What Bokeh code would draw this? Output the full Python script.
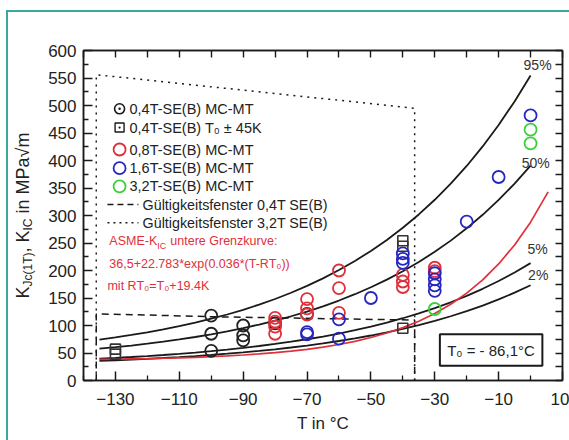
import math
from bokeh.plotting import figure
from bokeh.layouts import row
from bokeh.models import FixedTicker, LinearAxis, Range1d
from bokeh.embed import file_html
from bokeh.resources import INLINE
from bokeh.core.properties import value

# ---------------- data ----------------
T_curve = [-135, -130, -125, -120, -115, -110, -105, -100, -95, -90, -85, -80, -75, -70,
           -65, -60, -55, -50, -45, -40, -35, -30, -25, -20, -15, -10, -5, 0]
K_95 = [74.5, 78.5, 82.8, 87.7, 93.0, 98.8, 105.2, 112.3, 120.0, 128.5, 137.9, 148.2, 159.6, 172.0,
        185.7, 200.8, 217.4, 235.6, 255.6, 277.7, 301.9, 328.6, 357.9, 390.1, 425.6, 464.6, 507.4, 554.6]
K_50 = [57.8, 60.5, 63.6, 66.9, 70.6, 74.7, 79.1, 84.0, 89.4, 95.3, 101.8, 108.9, 116.8, 125.4,
        134.9, 145.4, 156.9, 169.5, 183.4, 198.7, 215.5, 234.0, 254.3, 276.7, 301.3, 328.3, 358.0, 390.7]
K_05 = [39.7, 41.1, 42.7, 44.5, 46.4, 48.5, 50.8, 53.4, 56.2, 59.3, 62.7, 66.4, 70.5, 75.0,
        79.9, 85.4, 91.4, 98.0, 105.2, 113.2, 122.0, 131.6, 142.2, 153.9, 166.7, 180.8, 196.3, 213.4]
K_02 = [35.6, 36.8, 38.0, 39.4, 40.9, 42.6, 44.4, 46.4, 48.7, 51.1, 53.8, 56.7, 60.0, 63.6,
        67.5, 71.8, 76.6, 81.8, 87.5, 93.8, 100.8, 108.4, 116.8, 126.1, 136.2, 147.4, 159.7, 173.2]

T_asme = [-135, -130, -125, -120, -115, -110, -105, -100, -95, -90, -85, -80, -75, -70,
          -65, -60, -55, -50, -45, -40, -35, -30, -25, -20, -15, -10, -5, 0, 5.5]
K_asme = [38.5, 38.8, 39.3, 39.8, 40.5, 41.3, 42.2, 43.4, 44.7, 46.4, 48.3, 50.6, 53.4, 56.7,
          60.7, 65.5, 71.2, 78.1, 86.3, 96.1, 107.8, 121.9, 138.7, 158.9, 183.0, 211.9, 246.5, 287.9, 343.0]

win04_T = [-136, -136, -120, -100, -80, -60, -36.3, -36.3]
win04_K = [0, 121, 119, 116, 114, 112, 110, 0]
win32_T = [-136, -136, -36.3, -36.3]
win32_K = [0, 556, 495, 0]

blk_T = [-100, -100, -100, -90, -90, -90, -80, -70]
blk_K = [118, 85, 54, 100, 82, 73, 104, 121]
sq_T = [-130, -130, -40, -40, -40]
sq_K = [57, 48, 254, 244, 95]
red_T = [-80, -80, -80, -80, -70, -70, -70, -60, -60, -60, -40, -40, -40, -30, -30]
red_K = [114, 107, 98, 85, 148, 131, 120, 200, 168, 123, 192, 180, 170, 205, 199]
blue_T = [-70, -70, -60, -60, -50, -40, -40, -40, -30, -30, -30, -30, -20, -10, 0]
blue_K = [88, 84, 111, 76, 150, 231, 221, 214, 195, 184, 173, 163, 289, 370, 482]
green_T = [-30, 0, 0]
green_K = [130, 456, 431]

pct_labels = ["95%", "50%", "5%", "2%"]
pct_T = [2.2, 1.6, 2.2, 2.4]
pct_K = [573, 395, 240, 191]

x_major = [-130, -110, -90, -70, -50, -30, -10, 10]
x_minor = [-140, -120, -100, -80, -60, -40, -20, 0]
x_all = sorted(x_major + x_minor)
y_major = list(range(0, 601, 50))
y_minor = list(range(25, 600, 50))
y_all = list(range(0, 601, 25))

legend_texts = ["0,4T-SE(B) MC-MT", "0,4T-SE(B) T\u2080 \u00b1 45K", "0,8T-SE(B) MC-MT",
                "1,6T-SE(B) MC-MT", "3,2T-SE(B)  MC-MT"]
window_texts = ["G\u00fcltigkeitsfenster 0,4T SE(B)", "G\u00fcltigkeitsfenster 3,2T SE(B)"]
T0_text = "T\u2080 = - 86,1\u00b0C"
ylabel_parts = ["K", "Jc(1T)", ", K", "IC", "in MPa\u221am"]

# ---------------- styling ----------------
FONT = "Liberation Sans"
BLACK = "#1a1a1a"
RED = "#e0303c"
BLUE = "#2626c0"
GREEN = "#3ccf3c"
TEAL = "#3aa89e"

p = figure(width=531, height=428, x_range=Range1d(-140, 10), y_range=Range1d(0, 600),
           output_backend="svg", toolbar_location=None,
           min_border_left=45, min_border_right=7, min_border_top=38, min_border_bottom=60,
           background_fill_color="white", border_fill_color="white")
p.xgrid.grid_line_color = None
p.ygrid.grid_line_color = None
p.outline_line_color = BLACK
p.outline_line_width = 1.5

p.add_layout(LinearAxis(), "above")
p.add_layout(LinearAxis(), "right")

p.below[0].ticker = FixedTicker(ticks=x_major, minor_ticks=x_minor)
p.left[0].ticker = FixedTicker(ticks=y_major, minor_ticks=y_minor)
p.above[0].ticker = FixedTicker(ticks=[], minor_ticks=x_all)
p.right[0].ticker = FixedTicker(ticks=[], minor_ticks=y_all)

for ax in p.axis:
    ax.axis_line_color = BLACK
    ax.axis_line_width = 1.5
    ax.major_tick_line_color = BLACK
    ax.minor_tick_line_color = BLACK
    ax.major_tick_line_width = 1.5
    ax.minor_tick_line_width = 1.3
    ax.major_tick_in = 9
    ax.major_tick_out = 0
    ax.minor_tick_in = 5
    ax.minor_tick_out = 0
    ax.major_label_text_font = FONT
    ax.major_label_text_font_size = "17px"
    ax.major_label_text_color = "#222222"
for ax in (p.above[0], p.right[0]):
    ax.minor_tick_in = 7
    ax.minor_tick_line_width = 1.4

p.below[0].major_label_standoff = 12
p.below[0].axis_label = "T in \u00b0C"
p.below[0].axis_label_text_font = FONT
p.below[0].axis_label_text_font_size = "17px"
p.below[0].axis_label_text_font_style = "normal"
p.below[0].axis_label_text_color = "#222222"
p.below[0].axis_label_standoff = 6
p.left[0].major_label_standoff = 7

# validity windows
p.line(win32_T, win32_K, line_color=BLACK, line_width=1.5, line_dash="2 5")
p.line(win04_T, win04_K, line_color=BLACK, line_width=1.5, line_dash="7 5")

# master curves and ASME curve
for K in (K_95, K_50, K_05, K_02):
    p.line(T_curve, K, line_color=BLACK, line_width=1.8)
p.line(T_asme, K_asme, line_color=RED, line_width=1.7)

# data points
MS = 12
p.scatter(sq_T, sq_K, marker="square", size=10, fill_color=None, line_color="#333333", line_width=1.6)
p.scatter(blk_T, blk_K, marker="circle", size=MS, fill_color=None, line_color="#222222", line_width=1.8)
p.scatter(red_T, red_K, marker="circle", size=MS, fill_color=None, line_color=RED, line_width=1.8)
p.scatter(blue_T, blue_K, marker="circle", size=MS, fill_color=None, line_color=BLUE, line_width=1.8)
p.scatter(green_T, green_K, marker="circle", size=MS, fill_color=None, line_color=GREEN, line_width=1.8)

# percent labels
p.text(pct_T, pct_K, text=pct_labels, text_font=value(FONT), text_font_size="14px",
       text_color="#333333", text_align="center", text_baseline="middle")

# legend (inside the plot)
rows_K = [494, 460, 420, 386, 353, 320, 287]
mk_T = -128.7
txt_T = -125.6
p.scatter([mk_T], [rows_K[0]], marker="circle_dot", size=10, fill_color=None, line_color=BLACK, line_width=1.6)
p.scatter([mk_T], [rows_K[1]], marker="square_dot", size=9, fill_color=None, line_color=BLACK, line_width=1.4)
p.scatter([mk_T], [rows_K[2]], marker="circle", size=MS, fill_color=None, line_color=RED, line_width=1.8)
p.scatter([mk_T], [rows_K[3]], marker="circle", size=MS, fill_color=None, line_color=BLUE, line_width=1.8)
p.scatter([mk_T], [rows_K[4]], marker="circle", size=MS, fill_color=None, line_color=GREEN, line_width=1.8)
p.text([txt_T] * 5, rows_K[:5], text=legend_texts, text_font=value(FONT), text_font_size="14.5px",
       text_color="#222222", text_align="left", text_baseline="middle")
p.line([-132.5, -122.8], [rows_K[5], rows_K[5]], line_color=BLACK, line_width=1.5, line_dash="6 4")
p.line([-132.5, -122.8], [rows_K[6], rows_K[6]], line_color=BLACK, line_width=1.5, line_dash="2 4")
p.text([-121.5] * 2, rows_K[5:7], text=window_texts, text_font=value(FONT), text_font_size="14.3px",
       text_color="#222222", text_align="left", text_baseline="middle")

# ASME annotation (red)
rt = -131.9
RS = "12.5px"
p.text([rt], [253], text=["ASME-K"], text_font=value(FONT), text_font_size=RS, text_color=RED,
       text_baseline="middle")
p.text([rt], [253], text=["IC"], x_offset=48, y_offset=5, text_font=value(FONT), text_font_size="9px",
       text_color=RED, text_baseline="middle")
p.text([rt], [253], text=["untere Grenzkurve:"], x_offset=61, text_font=value(FONT), text_font_size=RS,
       text_color=RED, text_baseline="middle")
p.text([rt], [211], text=["36,5+22.783*exp(0.036*(T-RT\u2080))"], text_font=value(FONT), text_font_size=RS,
       text_color=RED, text_baseline="middle")
p.text([rt - 0.6], [171], text=["mit  RT\u2080=T\u2080+19.4K"], text_font=value(FONT), text_font_size=RS,
       text_color=RED, text_baseline="middle")

# T0 box
p.quad(left=[-28.4], right=[3.7], bottom=[27], top=[84], fill_color="white", line_color=BLACK, line_width=2)
p.text([-12.4], [55], text=[T0_text], text_font=value(FONT), text_font_size="15px", text_color="#222222",
       text_align="center", text_baseline="middle")

# ---------------- y-axis label panel (frame aligned with the main plot frame) ----------------
lab = figure(width=30, height=428, x_range=Range1d(0, 30), y_range=Range1d(0, 330),
             output_backend="svg", toolbar_location=None, x_axis_location=None, y_axis_location=None,
             min_border=0, background_fill_color="white", border_fill_color="white")
lab.xgrid.grid_line_color = None
lab.ygrid.grid_line_color = None
lab.outline_line_color = None
lab_x = [14, 19, 14, 19, 14]
lab_y = [82, 94, 128, 150, 167]
lab_fs = ["18px", "12px", "18px", "12px", "18px"]
for t, xx, yy, fs in zip(ylabel_parts, lab_x, lab_y, lab_fs):
    lab.text([xx], [yy], text=[t], angle=math.pi / 2, text_font=value(FONT), text_font_size=fs,
             text_color="#222222", text_align="left", text_baseline="middle")

layout = row(lab, p, spacing=0,
             styles={"margin-left": "6px", "margin-top": "10px",
                     "border-left": f"2px solid {TEAL}", "border-top": f"2px solid {TEAL}"})

open("out.html", "w").write(file_html(layout, INLINE))
